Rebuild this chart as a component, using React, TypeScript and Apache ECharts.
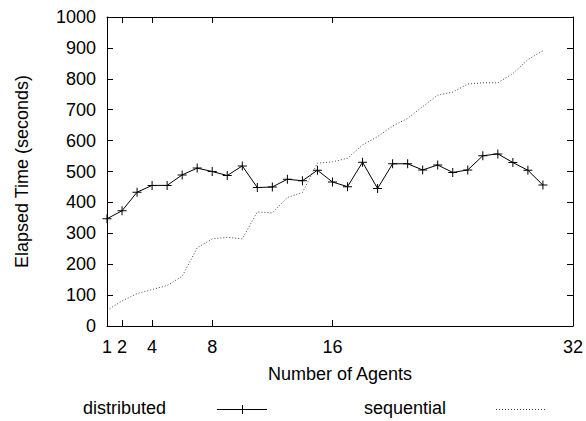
import React, { useEffect, useRef } from "react";
import * as echarts from "echarts";

const agents = [1,2,3,4,5,6,7,8,9,10,11,12,13,14,15,16,17,18,19,20,21,22,23,24,25,26,27,28,29,30];
const distributed = [347,373,433,455,455,489,511,500,487,518,448,450,475,470,504,466,451,530,445,525,525,505,521,497,505,551,557,529,504,456];
const sequential = [51,81,105,118,131,161,253,282,287,282,369,366,416,432,527,531,543,586,613,647,672,710,747,757,783,787,787,817,862,891];
const xTicks = [1,2,4,8,16,32];
const seriesNames = ["distributed", "sequential"];

const FONT = "'Liberation Sans', Arial, Helvetica, sans-serif";
const PLUS = "path://M4,0h1v4h4v1h-4v4h-1v-4h-4v-1h4z";

export default function App() {
  const ref = useRef<HTMLDivElement>(null);
  useEffect(() => {
    if (!ref.current) return;
    const chart = echarts.init(ref.current, null, { renderer: "svg" });
    const axisCommon = {
      axisLine: { show: true, onZero: false, lineStyle: { color: "#000", width: 1 } },
      splitLine: { show: false },
    };
    chart.setOption({
      animation: false,
      backgroundColor: "#fff",
      textStyle: { fontFamily: FONT },
      grid: { left: 107, right: 11, top: 17, bottom: 95, containLabel: false },
      xAxis: [
        {
          type: "value", min: 1, max: 32, position: "bottom",
          ...axisCommon,
          axisTick: { show: true, inside: true, length: 6, customValues: xTicks, lineStyle: { color: "#000" } },
          axisLabel: { customValues: xTicks, fontSize: 18, color: "#000", margin: 12, fontFamily: FONT, formatter: (v: number) => String(v) },
          name: "Number of Agents", nameLocation: "middle", nameGap: 39,
          nameTextStyle: { fontSize: 18, color: "#000", fontFamily: FONT },
        },
        {
          type: "value", min: 1, max: 32, position: "top",
          ...axisCommon,
          axisTick: { show: true, inside: true, length: 6, customValues: xTicks, lineStyle: { color: "#000" } },
          axisLabel: { show: false },
        },
      ],
      yAxis: [
        {
          type: "value", min: 0, max: 1000, interval: 100, position: "left",
          ...axisCommon,
          axisTick: { show: true, inside: true, length: 6, lineStyle: { color: "#000" } },
          axisLabel: { fontSize: 18, color: "#000", margin: 11, fontFamily: FONT, formatter: (v: number) => String(v) },
          name: "Elapsed Time (seconds)", nameLocation: "middle", nameGap: 76, nameRotate: 90,
          nameTextStyle: { fontSize: 18, color: "#000", fontFamily: FONT },
        },
        {
          type: "value", min: 0, max: 1000, interval: 100, position: "right",
          ...axisCommon,
          axisTick: { show: true, inside: true, length: 6, lineStyle: { color: "#000" } },
          axisLabel: { show: false },
        },
      ],
      series: [
        {
          name: seriesNames[0], type: "line",
          data: agents.map((a, i) => [a, distributed[i]]),
          symbol: PLUS, symbolSize: 9, showSymbol: true,
          itemStyle: { color: "#000" },
          lineStyle: { color: "#000", width: 1 },
        },
        {
          name: seriesNames[1], type: "line",
          data: agents.map((a, i) => [a, sequential[i]]),
          symbol: "none",
          lineStyle: { color: "#444", width: 1, type: [1, 2] },
        },
      ],
      graphic: [
        { type: "text", left: 83, top: 399, style: { text: seriesNames[0], fontSize: 18, fill: "#000", fontFamily: FONT } },
        { type: "line", shape: { x1: 217, y1: 409.5, x2: 267, y2: 409.5 }, style: { stroke: "#000", lineWidth: 1 } },
        { type: "line", shape: { x1: 242.5, y1: 405, x2: 242.5, y2: 414 }, style: { stroke: "#000", lineWidth: 1 } },
        { type: "text", left: 364, top: 399, style: { text: seriesNames[1], fontSize: 18, fill: "#000", fontFamily: FONT } },
        { type: "line", shape: { x1: 496, y1: 409.5, x2: 546, y2: 409.5 }, style: { stroke: "#444", lineWidth: 1, lineDash: [1, 2] } },
      ],
    });
    return () => chart.dispose();
  }, []);
  return <div ref={ref} style={{ position: "fixed", left: 0, top: 0, width: 586, height: 421 }} />;
}
